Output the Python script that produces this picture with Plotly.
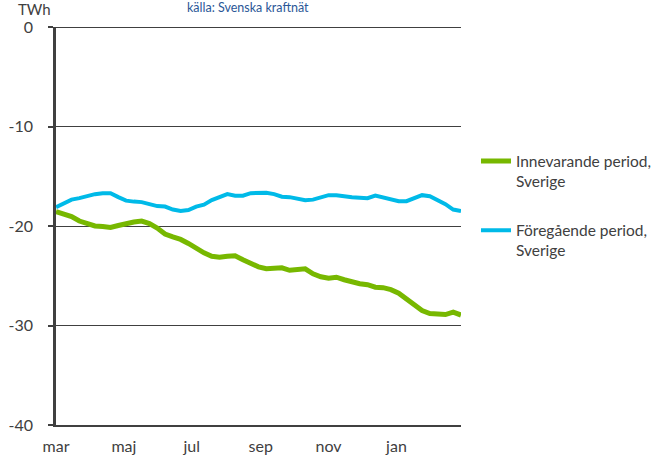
import pandas as pd
import plotly.graph_objects as go

weeks = pd.date_range("2012-03-01", periods=53, freq="7D")

innevarande = [-18.55, -18.8, -19.05, -19.5, -19.8, -20.0, -20.05, -20.15, -19.95, -19.75,
               -19.6, -19.5, -19.75, -20.2, -20.8, -21.1, -21.35, -21.75, -22.3, -22.7,
               -23.05, -23.15, -23.05, -23.0, -23.4, -23.8, -24.1, -24.3, -24.3, -24.2,
               -24.45, -24.35, -24.3, -24.8, -25.1, -25.25, -25.15, -25.4, -25.65, -25.8,
               -25.9, -26.15, -26.2, -26.4, -26.75, -27.3, -27.95, -28.5, -28.8, -28.85,
               -28.9, -28.65, -28.95]

foregaende = [-18.1, -17.7, -17.35, -17.2, -16.95, -16.8, -16.7, -16.7, -17.1, -17.45,
              -17.55, -17.6, -17.8, -18.0, -18.05, -18.35, -18.5, -18.4, -18.05, -17.85,
              -17.4, -17.1, -16.8, -16.95, -16.95, -16.7, -16.65, -16.65, -16.8, -17.05,
              -17.1, -17.25, -17.4, -17.35, -17.15, -16.9, -16.9, -17.05, -17.1, -17.15,
              -17.2, -16.95, -17.15, -17.35, -17.5, -17.5, -17.2, -16.9, -17.0, -17.35,
              -17.8, -18.35, -18.5]

month_ticks = ["2012-03-01", "2012-05-01", "2012-07-01", "2012-09-01", "2012-11-01", "2013-01-01"]
month_labels = ["mar", "maj", "jul", "sep", "nov", "jan"]
y_ticks = [0, -10, -20, -30, -40]
y_labels = ["0", "-10", "-20", "-30", "-40"]

font = "Lato, 'Open Sans', sans-serif"
grey = "#404040"

fig = go.Figure()
fig.add_trace(go.Scatter(x=weeks, y=innevarande, mode="lines",
                         name="Innevarande period,<br>Sverige", legendgroup="a",
                         line=dict(color="#77B800", width=5)))
fig.add_trace(go.Scatter(x=weeks, y=foregaende, mode="lines",
                         name="Föregående period,<br>Sverige", legendgroup="b",
                         line=dict(color="#00BAE8", width=4)))

fig.update_layout(
    width=672, height=459,
    margin=dict(l=56, r=211, t=27, b=34),
    paper_bgcolor="white", plot_bgcolor="white",
    font=dict(family=font, size=16, color=grey),
    showlegend=True,
    legend=dict(x=1.037, y=0.705, xanchor="left", yanchor="top", valign="top",
                tracegroupgap=26, font=dict(size=15.5, color=grey),
                bgcolor="rgba(0,0,0,0)"),
    xaxis=dict(range=[weeks[0], weeks[-1]], tickvals=month_ticks, ticktext=month_labels,
               showgrid=False, showline=True, linecolor=grey, linewidth=1.5,
               ticks="", zeroline=False, automargin=False, ticklabelstandoff=6,
               tickfont=dict(size=16, color=grey)),
    yaxis=dict(range=[-40, 0], tickvals=y_ticks, ticktext=y_labels,
               showgrid=True, gridcolor=grey, gridwidth=1,
               showline=True, linecolor=grey, linewidth=2.5, mirror=False,
               ticks="outside", ticklen=5, tickcolor=grey, tickwidth=2,
               ticklabelstandoff=12, automargin=False,
               zeroline=False, tickfont=dict(size=16, color=grey)),
    annotations=[
        dict(text="TWh", xref="paper", yref="paper", x=-0.01, y=1.0, xanchor="right",
             yanchor="bottom", yshift=8, borderpad=0, showarrow=False,
             font=dict(size=15, color=grey)),
        dict(text="källa: Svenska kraftnät", xref="paper", yref="paper", x=0.475, y=1.0,
             xanchor="center", yanchor="bottom", yshift=10, showarrow=False,
             font=dict(size=12.5, color="#2B5797")),
    ],
    shapes=[dict(type="line", xref="paper", yref="y", x0=0, x1=1, y0=0, y1=0,
                 line=dict(color=grey, width=2))],
)

fig.write_html("out.html", config={"displayModeBar": False},
               post_script="document.body.style.margin='0px';")
